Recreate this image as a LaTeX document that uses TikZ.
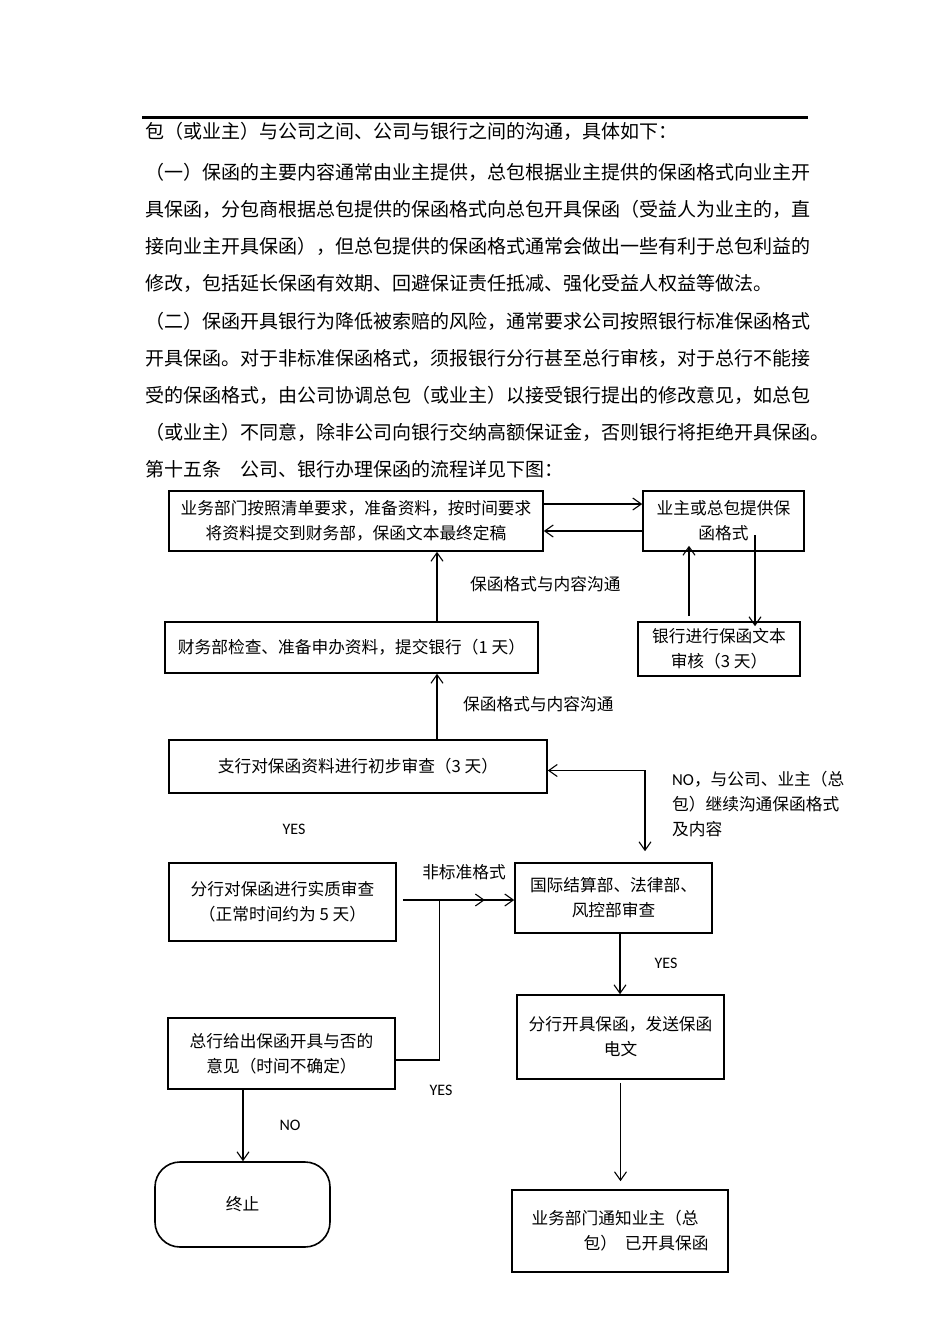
\documentclass[tikz,border=0pt]{standalone}
\usepackage{fontspec}
\setmainfont{Noto Sans CJK SC}
\newfontfamily\latfont{Carlito}
\usepackage{tikz}
\usetikzlibrary{arrows.meta, positioning}
\newcommand{\bodyfont}{\fontsize{19}{23}\selectfont}
\newcommand{\chartfont}{\fontsize{16.7}{25}\selectfont}
\tikzstyle{process} = [rectangle, draw=black, line width=1.6pt, align=center, inner sep=0pt, font=\chartfont]
\tikzstyle{term} = [rectangle, rounded corners=25pt, draw=black, line width=1.6pt, minimum width=175pt, minimum height=85pt, font=\chartfont]
\tikzstyle{arrow} = [line width=1.1pt, ->, >={Straight Barb[length=8.5pt,width=12pt]}]
\tikzstyle{body} = [anchor=west, inner sep=0pt, font=\bodyfont]
\tikzstyle{lbl} = [inner sep=0pt, font=\chartfont]
\tikzstyle{yesno} = [inner sep=0pt, font=\latfont\fontsize{16}{19}\selectfont]

\begin{document}
\begin{tikzpicture}[x=1pt, y=-1pt]
\useasboundingbox (0,0) rectangle (950,1344);
\draw [line width=3pt] (142,117) -- (808,117);

% text above the chart
\node (p1) [body] at (145,131) {包（或业主）与公司之间、公司与银行之间的沟通，具体如下：};
\node (p2) [body] at (145,172) {（一）保函的主要内容通常由业主提供，总包根据业主提供的保函格式向业主开};
\node (p3) [body] at (145,209) {具保函，分包商根据总包提供的保函格式向总包开具保函（受益人为业主的，直};
\node (p4) [body] at (145,246) {接向业主开具保函），但总包提供的保函格式通常会做出一些有利于总包利益的};
\node (p5) [body] at (145,283) {修改，包括延长保函有效期、回避保证责任抵减、强化受益人权益等做法。};
\node (p6) [body] at (145,321) {（二）保函开具银行为降低被索赔的风险，通常要求公司按照银行标准保函格式};
\node (p7) [body] at (145,358) {开具保函。对于非标准保函格式，须报银行分行甚至总行审核，对于总行不能接};
\node (p8) [body] at (145,395) {受的保函格式，由公司协调总包（或业主）以接受银行提出的修改意见，如总包};
\node (p9) [body] at (145,432) {（或业主）不同意，除非公司向银行交纳高额保证金，否则银行将拒绝开具保函。};
\node (p10) [body] at (145,469) {第十五条\hspace{1em}公司、银行办理保函的流程详见下图：};

% boxes
\node (dept) [process, minimum width=374pt, minimum height=60pt] at (356,521) {业务部门按照清单要求，准备资料，按时间要求\\将资料提交到财务部，保函文本最终定稿};
\node (owner) [process, minimum width=161pt, minimum height=60pt] at (723.5,521) {业主或总包提供保\\函格式};
\node (bankrev) [process, minimum width=162pt, minimum height=54pt] at (719,649) {银行进行保函文本\\审核（3 天）};
\node (finance) [process, minimum width=373pt, minimum height=51pt] at (351.5,647.5) {财务部检查、准备申办资料，提交银行（1 天）};
\node (subbranch) [process, minimum width=378pt, minimum height=53pt] at (358,766.5) {支行对保函资料进行初步审查（3 天）};
\node (branch) [process, minimum width=227pt, minimum height=78pt] at (282.5,902) {分行对保函进行实质审查\\（正常时间约为 5 天）};
\node (legal) [process, minimum width=197pt, minimum height=70pt] at (613.5,898) {国际结算部、法律部、\\风控部审查};
\node (head) [process, minimum width=227pt, minimum height=71pt] at (281.5,1053.5) {总行给出保函开具与否的\\意见（时间不确定）};
\node (issue) [process, minimum width=207pt, minimum height=84pt] at (620.5,1037) {分行开具保函，发送保函\\电文};
\node (stop) [term] at (242.5,1204.5) {终止};
\node (notify) [process, minimum width=216pt, minimum height=82pt, align=left] at (620,1231) {业务部门通知业主（总\\\hspace*{52pt}包）\hspace{8pt}已开具保函};

% labels
\node (fmt1) [lbl, anchor=west] at (470,584) {保函格式与内容沟通};
\node (fmt2) [lbl, anchor=west] at (463,704) {保函格式与内容沟通};
\node (nolbl) [lbl, anchor=west, align=left] at (672,804) {{\latfont NO}，与公司、业主（总\\包）继续沟通保函格式\\及内容};
\node (yes1) [yesno] at (294,829) {YES};
\node (nonstd) [lbl] at (464,872) {非标准格式};
\node (yes2) [yesno] at (666,963) {YES};
\node (yes3) [yesno] at (441,1090) {YES};
\node (no1) [yesno] at (290,1125) {NO};

% connectors
\draw [arrow] ([yshift=17pt]dept.east) -- ([yshift=17pt]owner.west);
\draw [arrow] ([yshift=-10pt]owner.west) -- ([yshift=-10pt]dept.east);
\draw [arrow, shorten >=9pt] ([xshift=31.5pt,yshift=-14pt]owner.center) -- ([xshift=31.5pt,yshift=-14pt]owner.center |- bankrev.north);
\draw [arrow, shorten <=5pt, shorten >=-6pt] ([xshift=-30pt]bankrev.north) -- ([xshift=-30pt]bankrev.north |- owner.south);
\draw [arrow] ([xshift=85.5pt]finance.north) -- ([xshift=85.5pt]finance.north |- dept.south);
\draw [arrow] ([xshift=79pt]subbranch.north) -- ([xshift=79pt]subbranch.north |- finance.south);
\draw [arrow, <->, shorten >=11pt] ([yshift=-4pt]subbranch.east) -| ([xshift=31.5pt]legal.north);
\draw [arrow] ([xshift=6pt,yshift=2pt]branch.east) -- ++(82,0);
\draw [arrow] ([yshift=-6.5pt]head.east) -- ++(44,0) |- ([yshift=-2pt]legal.west);
\draw [arrow] ([xshift=-38.5pt]head.south) -- ([xshift=-38.5pt]head.south |- stop.north);
\draw [arrow] ([xshift=6.5pt]legal.south) -- ([xshift=6.5pt]legal.south |- issue.north);
\draw [arrow, shorten <=3pt, shorten >=8pt] (issue.south) -- (issue.south |- notify.north);
\end{tikzpicture}
\end{document}
